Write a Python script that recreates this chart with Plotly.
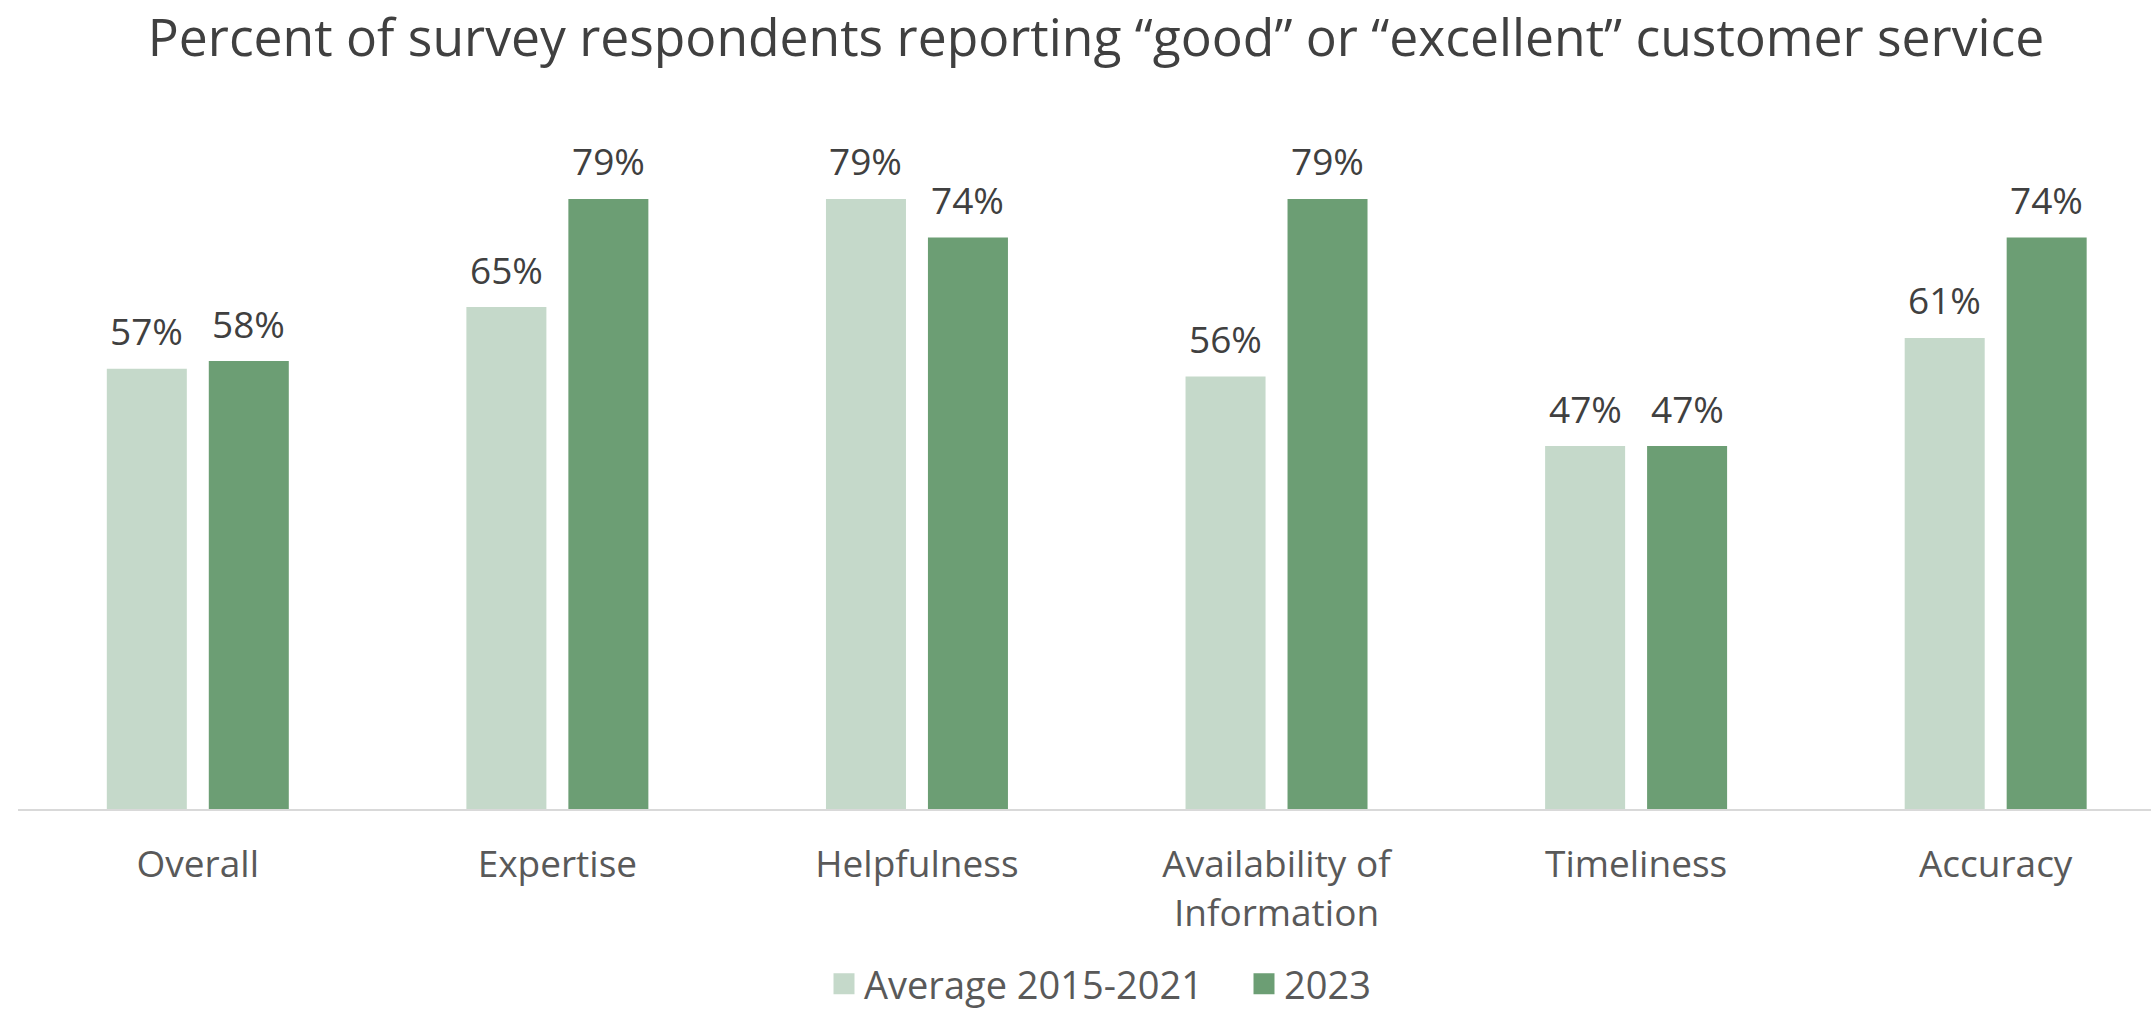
import plotly.graph_objects as go

categories = ["Overall", "Expertise", "Helpfulness", "Availability of<br>Information", "Timeliness", "Accuracy"]
avg_2015_2021 = [57, 65, 79, 56, 47, 61]
y2023 = [58, 79, 74, 79, 47, 74]
series_names = ["Average 2015-2021", "2023"]

LIGHT = "#C5D9CA"
DARK = "#6C9E74"
FONT = "Open Sans"

bw = 0.2225
offsets = [-0.253, 0.0306]
series = [avg_2015_2021, y2023]
colors = [LIGHT, DARK]

fig = go.Figure()
xs = list(range(len(categories)))
for vals, off, col, name in zip(series, offsets, colors, series_names):
    fig.add_trace(go.Bar(
        x=xs, y=vals, name=name, showlegend=False,
        marker=dict(color=col, line=dict(width=0)), width=bw, offset=off,
    ))
    for i, v in zip(xs, vals):
        fig.add_annotation(
            x=i + off + bw / 2, y=v, xref="x", yref="y", text=f"{v}%",
            showarrow=False, xanchor="center", yanchor="middle", yshift=38,
            font=dict(family=FONT, size=37, color="#404040"),
        )

# legend entries
for col, name in zip(colors, series_names):
    fig.add_trace(go.Scatter(
        x=[None], y=[None], mode="markers", name=name,
        marker=dict(symbol="square", size=16, color=col, line=dict(color=col, width=5)),
    ))

fig.update_layout(
    width=2151, height=1011,
    barmode="overlay",
    paper_bgcolor="white", plot_bgcolor="white",
    margin=dict(l=18, r=0, t=114, b=202, autoexpand=False),
    title=dict(text="Percent of survey respondents reporting “good” or “excellent” customer service",
               x=1096 / 2151, xanchor="center", xref="container", y=1 - 38 / 1011, yanchor="middle",
               font=dict(family=FONT, size=51.6, color="#404040")),
    showlegend=True,
    legend=dict(orientation="h", x=824 / 2151, xref="container", xanchor="left",
                y=1 - 984 / 1011, yref="container", yanchor="middle",
                font=dict(family=FONT, size=38, color="#595959"),
                traceorder="normal", itemwidth=30, entrywidth=375, entrywidthmode="pixels"),
    font=dict(family=FONT),
)
fig.update_xaxes(
    tickmode="array", tickvals=xs, ticktext=categories,
    range=[-0.5, 5.432], showline=True, linecolor="#D9D9D9", linewidth=2,
    showgrid=False, zeroline=False, ticks="", ticklabelstandoff=22, automargin=False,
    tickfont=dict(family=FONT, size=37, color="#595959"),
)
fig.update_yaxes(range=[0, 90], visible=False, showgrid=False, zeroline=False, automargin=False)

fig.write_html("out.html")
